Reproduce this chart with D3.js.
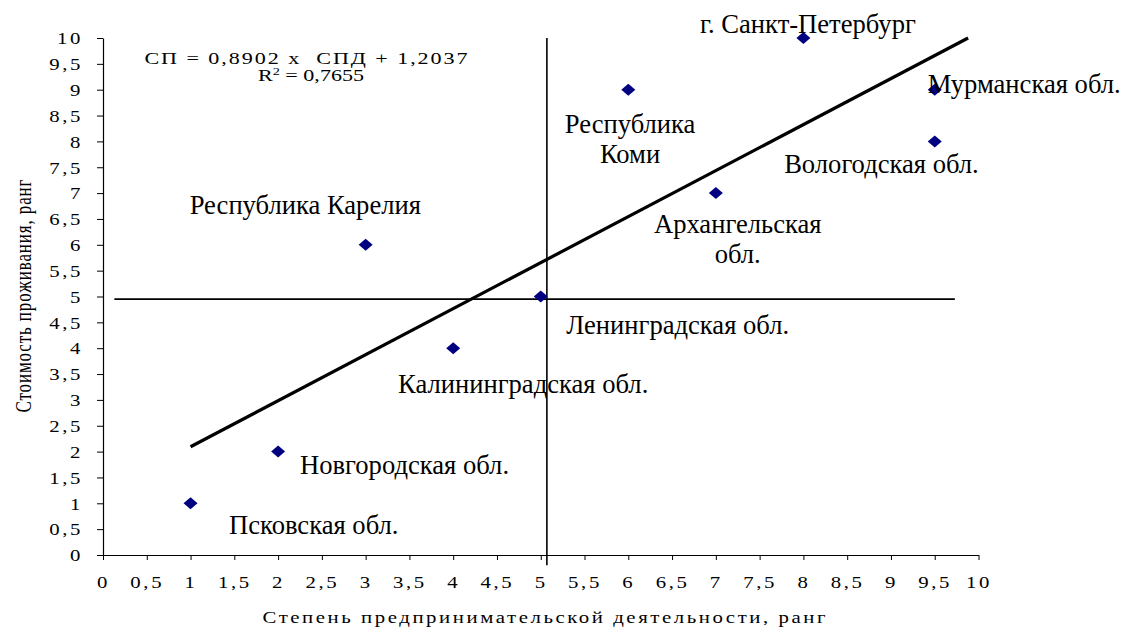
<!DOCTYPE html>
<html>
<head>
<meta charset="utf-8">
<script src="https://cdn.jsdelivr.net/npm/d3@7/dist/d3.min.js"></script>
<style>
  html, body { margin: 0; padding: 0; background: #fff; }
  svg text { font-family: "Liberation Serif", "Times New Roman", Tinos, "DejaVu Serif", "Noto Serif", serif !important; }
</style>
</head>
<body>
<svg id="chart" width="1125" height="627"></svg>
<script>
// ---- data ----
const regions = ["Псковская обл.", "Новгородская обл.", "Республика Карелия", "Калининградская обл.",
  "Ленинградская обл.", "Республика Коми", "Архангельская обл.", "г. Санкт-Петербург",
  "Мурманская обл.", "Вологодская обл."];
const entrepreneurship = [1, 2, 3, 4, 5, 6, 7, 8, 9.5, 9.5];   // x
const livingCost       = [1, 2, 6, 4, 5, 9, 7, 10, 9, 8];      // y
const xTicks = [0,0.5,1,1.5,2,2.5,3,3.5,4,4.5,5,5.5,6,6.5,7,7.5,8,8.5,9,9.5,10];
const yTicks = [0,0.5,1,1.5,2,2.5,3,3.5,4,4.5,5,5.5,6,6.5,7,7.5,8,8.5,9,9.5,10];
const slope = 0.8902, intercept = 1.2037, r2 = 0.7655;
const meanX = 5.07, meanY = 4.95;
const xTitle = "Степень предпринимательской деятельности, ранг";
const yTitle = "Стоимость проживания, ранг";

// label anchors in data units (layout)
const labelLines = [
  { lines: ["Псковская обл."], x: 1.44, y: 0.40, anchor: "start" },
  { lines: ["Новгородская обл."], x: 2.25, y: 1.57, anchor: "start" },
  { lines: ["Республика Карелия"], x: 0.99, y: 6.6, anchor: "start" },
  { lines: ["Калининградская обл."], x: 3.37, y: 3.13, anchor: "start" },
  { lines: ["Ленинградская обл."], x: 5.29, y: 4.27, anchor: "start" },
  { lines: ["Республика", "Коми"], x: 6.02, y: 8.16, anchor: "middle" },
  { lines: ["Архангельская", "обл."], x: 7.25, y: 6.23, anchor: "middle" },
  { lines: ["г. Санкт-Петербург"], x: 6.82, y: 10.1, anchor: "start" },
  { lines: ["Мурманская обл."], x: 9.42, y: 8.94, anchor: "start" },
  { lines: ["Вологодская обл."], x: 7.78, y: 7.39, anchor: "start" }
];

const fmt = d => String(d).replace(".", ",");

const svg = d3.select("#chart");
const x = d3.scaleLinear().domain([0, 10]).range([103, 978.5]);
const y = d3.scaleLinear().domain([0, 10]).range([555, 38]);

// axes
const gx = svg.append("g").attr("transform", `translate(0,${y(0)})`)
  .call(d3.axisBottom(x).tickValues(xTicks).tickFormat(fmt).tickSize(5).tickSizeOuter(0));
gx.selectAll("text")
  .attr("y", 0).attr("dy", 0)
  .attr("transform", "translate(0,33) scale(1.3,1)")
  .style("font-size", "16px").style("letter-spacing", "2px")
  .attr("fill", "#000");

const gy = svg.append("g").attr("transform", `translate(${x(0)},0)`)
  .call(d3.axisLeft(y).tickValues(yTicks).tickFormat(fmt).tickSize(6).tickSizeOuter(0));
gy.selectAll("text")
  .attr("x", -15.4).attr("dy", "0.36em")
  .attr("transform", "scale(1.3,1)")
  .style("font-size", "16px").style("letter-spacing", "2px")
  .attr("fill", "#000");

svg.selectAll(".domain").attr("stroke", "#000").attr("stroke-width", 1.2);
svg.selectAll(".tick line").attr("stroke", "#000");

// axis titles
svg.append("text")
  .attr("transform", `translate(544,623) scale(1.3,1)`)
  .attr("text-anchor", "middle")
  .attr("textLength", 563 / 1.3).attr("lengthAdjust", "spacing")
  .style("font-size", "16px")
  .text(xTitle);

svg.append("text")
  .attr("transform", `translate(31,296) scale(1.3,1) rotate(-90)`)
  .attr("text-anchor", "middle")
  .attr("textLength", 233).attr("lengthAdjust", "spacing")
  .style("font-size", "17px")
  .text(yTitle);

// reference lines (means)
svg.append("line")
  .attr("x1", x(meanX)).attr("x2", x(meanX))
  .attr("y1", y(10)).attr("y2", y(-0.2))
  .attr("stroke", "#000").attr("stroke-width", 1.6);
svg.append("line")
  .attr("x1", x(0.13)).attr("x2", x(9.73))
  .attr("y1", y(meanY)).attr("y2", y(meanY))
  .attr("stroke", "#000").attr("stroke-width", 1.6);

// trend line
const trendX = [1, (10 - intercept) / slope];
svg.append("path")
  .datum(trendX)
  .attr("d", d3.line().x(d => x(d)).y(d => y(slope * d + intercept)))
  .attr("fill", "none").attr("stroke", "#000").attr("stroke-width", 3.2);

// markers (diamonds)
const diamond = "M0,-6L7,0L0,6L-7,0Z";
svg.append("g").selectAll("path")
  .data(d3.range(regions.length))
  .join("path")
  .attr("d", diamond)
  .attr("transform", i => `translate(${x(entrepreneurship[i])},${y(livingCost[i])})`)
  .attr("fill", "#000080");

// point labels
const lg = svg.append("g").style("font-size", "26.6px").attr("fill", "#000");
labelLines.forEach(l => {
  const t = lg.append("text")
    .attr("text-anchor", l.anchor)
    .attr("x", x(l.x)).attr("y", y(l.y));
  l.lines.forEach((s, k) => {
    t.append("tspan").attr("x", x(l.x)).attr("dy", k === 0 ? 0 : 30).text(s);
  });
});

// equation
const eq = svg.append("g").style("font-size", "17px");
eq.append("text")
  .attr("transform", "translate(307,64) scale(1.3,1)")
  .attr("text-anchor", "middle")
  .style("letter-spacing", "1.5px")
  .text("СП = 0,8902 x \u00a0СПД + 1,2037");
const eq2 = eq.append("text")
  .attr("transform", "translate(311,81) scale(1.3,1)")
  .attr("text-anchor", "middle");
eq2.append("tspan").text("R");
eq2.append("tspan").attr("dy", -6).style("font-size", "11px").text("2");
eq2.append("tspan").attr("dy", 6).text(" = " + fmt(r2));
</script>
</body>
</html>
